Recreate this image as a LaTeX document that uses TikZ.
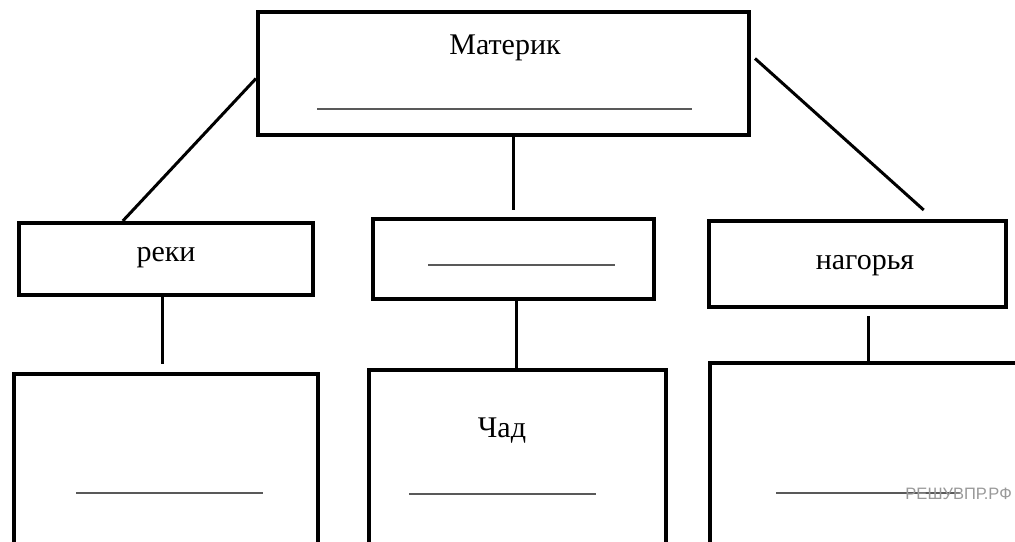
\documentclass[tikz,border=0pt]{standalone}
\usepackage{fontspec}
\setmainfont{Liberation Serif}
\newfontfamily\wmfont{Liberation Sans}
\usetikzlibrary{calc}

\begin{document}
\begin{tikzpicture}[x=1pt,y=-1pt,
  box/.style={draw=black,line width=4pt,inner sep=0pt},
  link/.style={draw=black,line width=3pt},
  blank/.style={draw=black!65,line width=2pt},
  word/.style={anchor=base,font=\fontsize{30}{36}\selectfont}]
\useasboundingbox (0,0) rectangle (1015,541);
\clip (0,0) rectangle (1015,541);
\node[box,minimum width=491pt,minimum height=123pt] (materik) at (503.5,73.5) {};
\node[box,minimum width=294pt,minimum height=72pt] (reki) at (166,259) {};
\node[box,minimum width=281pt,minimum height=80pt] (mid) at (513.5,259) {};
\node[box,minimum width=297pt,minimum height=86pt] (nagorya) at (857.5,264) {};
\node[box,minimum width=304pt,minimum height=200pt] (bl) at (166,474) {};
\node[box,minimum width=297pt,minimum height=200pt] (bc) at (517.5,470) {};
\node[box,minimum width=330pt,minimum height=200pt] (br) at (875,463) {};
\node[word] (materikText) at (505,54) {Материк};
\node[word] (rekiText) at (166,261) {реки};
\node[word] (nagoryaText) at (865,269) {нагорья};
\node[word] (chadText) at (502,437) {Чад};
\foreach \xa/\xb/\yy in {317/692/109, 428/615/265, 76/263/493, 409/596/494, 776/960/493}
  \draw[blank] (\xa,\yy) -- (\xb,\yy);
\node[anchor=base east,text=black!40,inner sep=0pt,font=\wmfont\fontsize{16.5}{20}\selectfont] (wm) at (1012,499) {РЕШУВПР.РФ};
\draw[link] ([yshift=-5pt]materik.west) -- ($(reki.north west)!0.355!(reki.north east)$);
\draw[link] (materik.south -| mid.north) -- ([yshift=7pt]mid.north);
\draw[link] ([xshift=4pt,yshift=15pt]materik.east) -- ($(nagorya.north west)!0.72!(nagorya.north east)+(0,-9)$);
\draw[link] ([xshift=-4pt]reki.south) -- ($(bl.north)+(-4,-8)$);
\draw[link] ([xshift=2.5pt]mid.south) -- ([xshift=-1.5pt]bc.north);
\draw[link] ($(nagorya.south -| br.north)+(-7,7)$) -- ($(br.north)+(-7,0)$);
\end{tikzpicture}
\end{document}
